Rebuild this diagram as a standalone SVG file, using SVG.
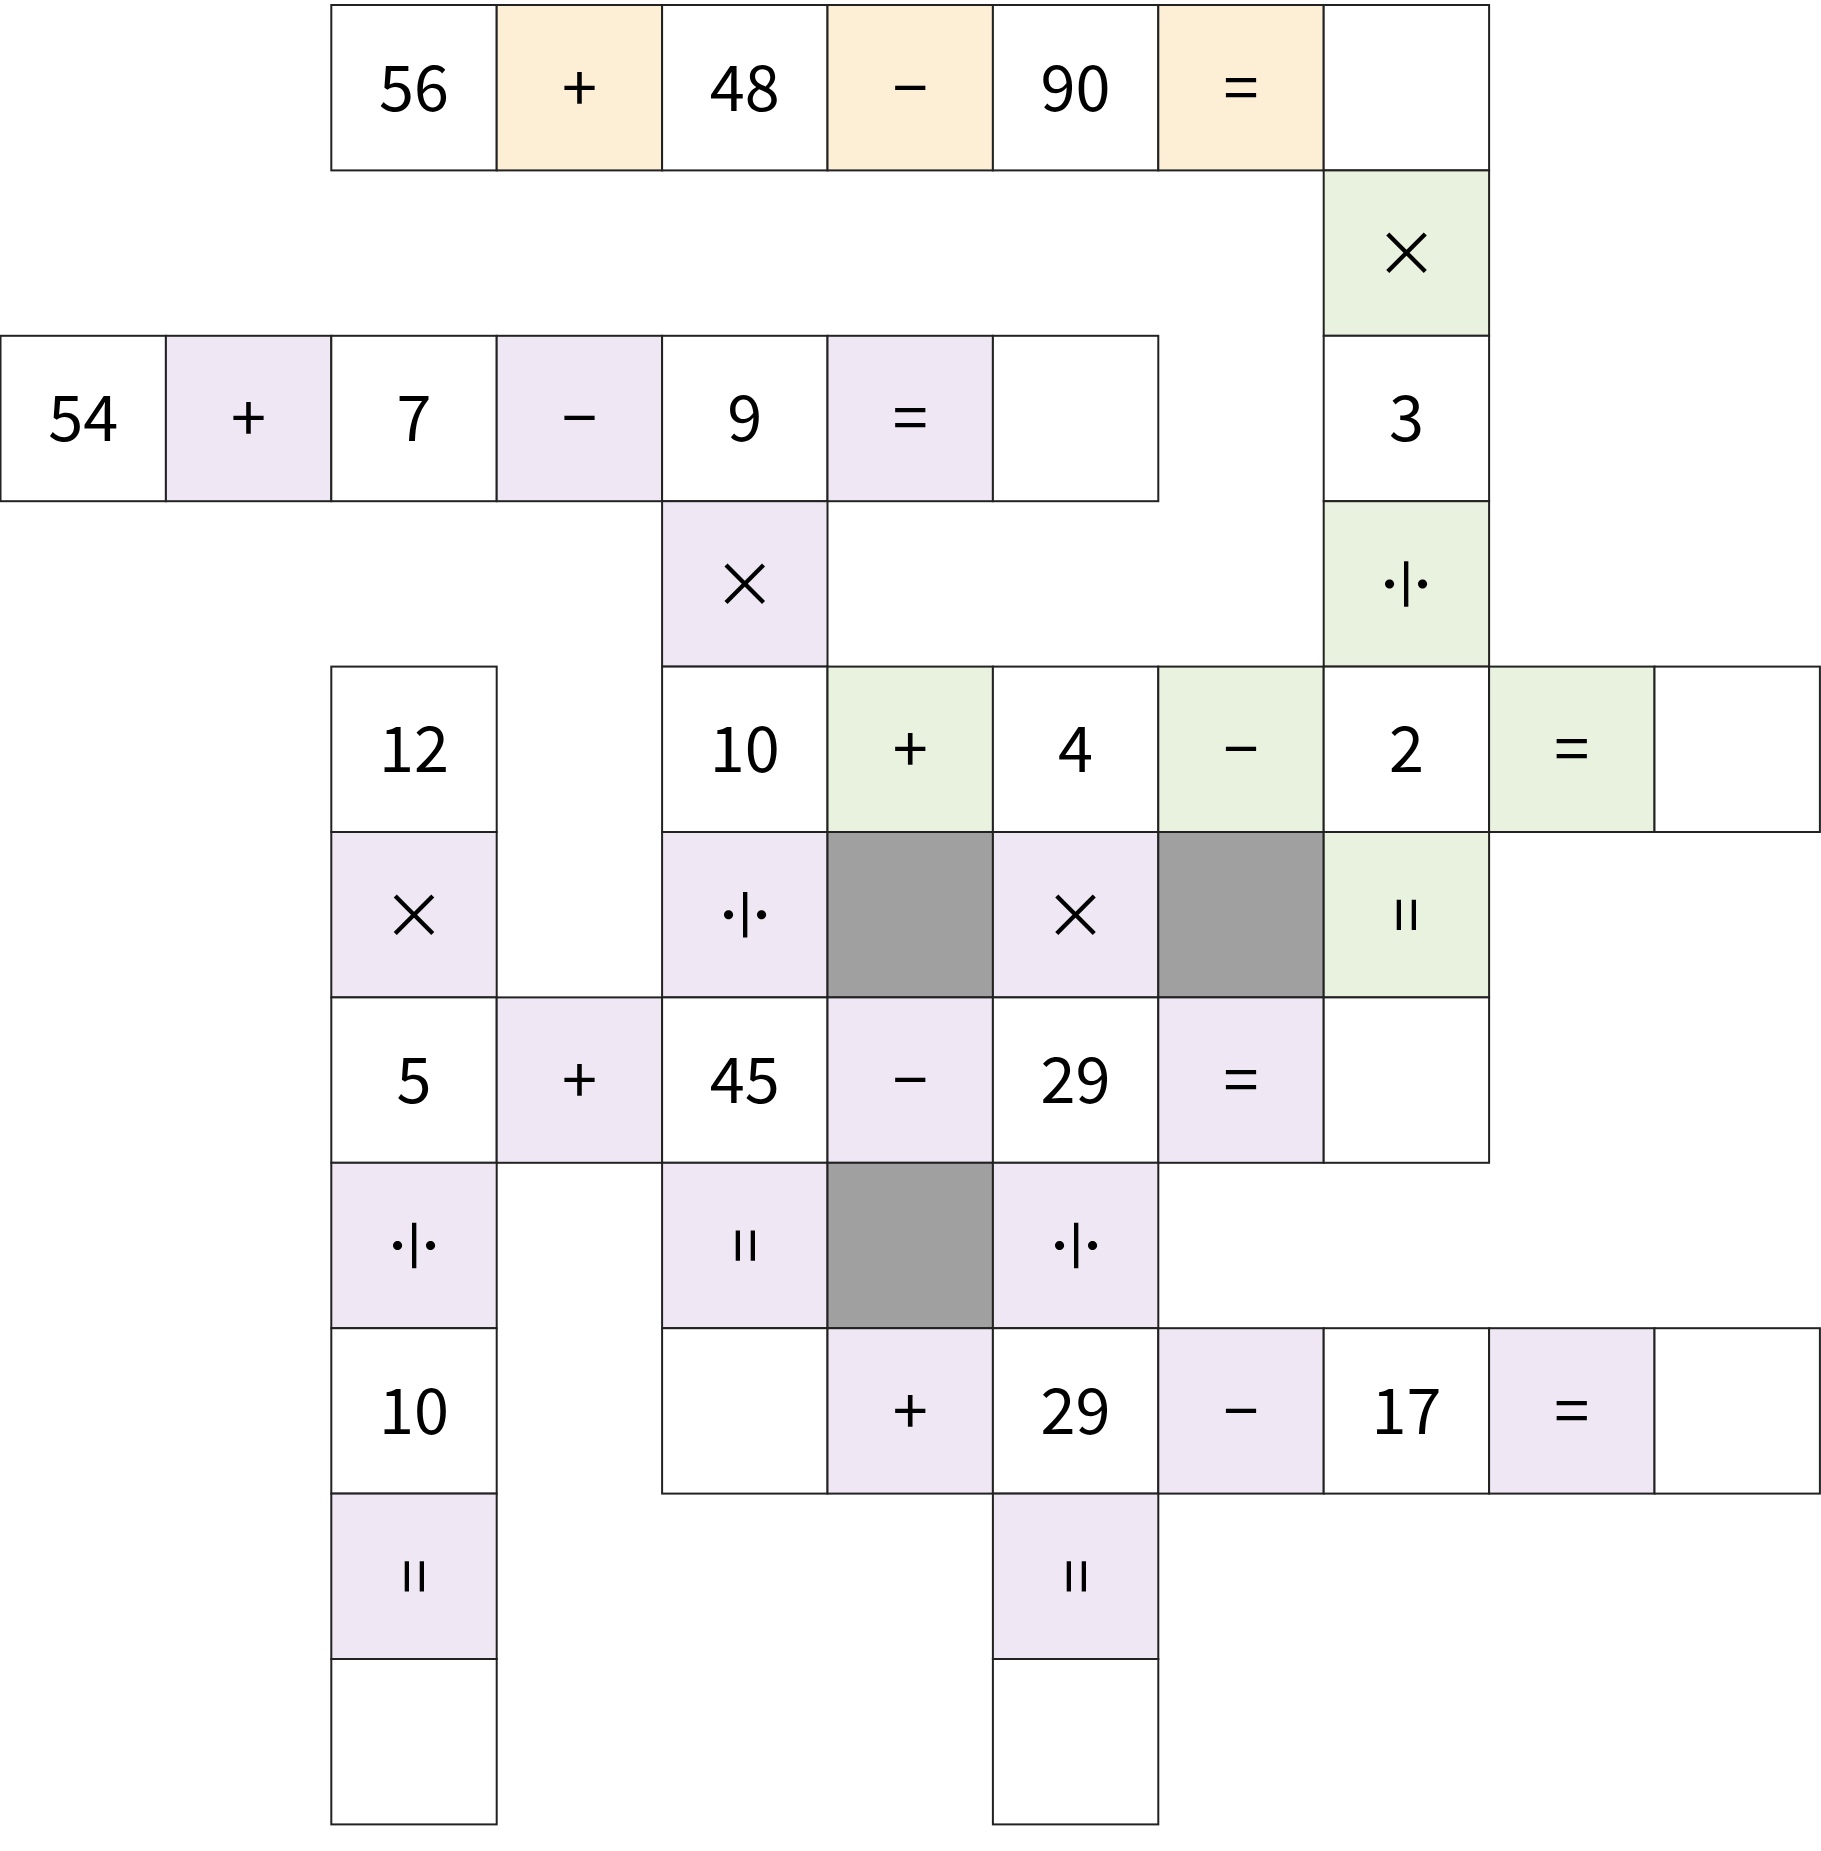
<svg xmlns="http://www.w3.org/2000/svg" width="1821" height="1851" viewBox="0 0 1821 1851">
<style>
.c{stroke:#222;stroke-width:2}
.w{fill:#ffffff}.o{fill:#fdeed6}.g{fill:#e9f2df}.p{fill:#efe8f4}.k{fill:#a0a0a0}
text{font-family:"Noto Sans CJK KR","Noto Sans",sans-serif;font-size:63px;fill:#000;text-anchor:middle}
</style>
<rect x="0" y="0" width="1821" height="1851" fill="#ffffff"/>
<g id="cells">
<!-- row 0 -->
<g id="r0c2" transform="translate(331.3,5)"><rect class="c w" width="165.4" height="165.4"/><text x="82.7" y="105.7">56</text></g>
<g id="r0c3" transform="translate(496.7,5)"><rect class="c o" width="165.4" height="165.4"/><text x="82.7" y="105.7">+</text></g>
<g id="r0c4" transform="translate(662.1,5)"><rect class="c w" width="165.4" height="165.4"/><text x="82.7" y="105.7">48</text></g>
<g id="r0c5" transform="translate(827.5,5)"><rect class="c o" width="165.4" height="165.4"/><text x="82.7" y="105.7">−</text></g>
<g id="r0c6" transform="translate(992.9,5)"><rect class="c w" width="165.4" height="165.4"/><text x="82.7" y="105.7">90</text></g>
<g id="r0c7" transform="translate(1158.3,5)"><rect class="c o" width="165.4" height="165.4"/><text x="82.7" y="105.7">=</text></g>
<g id="r0c8" transform="translate(1323.7,5)"><rect class="c w" width="165.4" height="165.4"/></g>
<!-- row 1 -->
<g id="r1c8" transform="translate(1323.7,170.4)"><rect class="c g" width="165.4" height="165.4"/><text x="82.7" y="105.7">×</text></g>
<!-- row 2 -->
<g id="r2c0" transform="translate(0.5,335.8)"><rect class="c w" width="165.4" height="165.4"/><text x="82.7" y="105.7">54</text></g>
<g id="r2c1" transform="translate(165.9,335.8)"><rect class="c p" width="165.4" height="165.4"/><text x="82.7" y="105.7">+</text></g>
<g id="r2c2" transform="translate(331.3,335.8)"><rect class="c w" width="165.4" height="165.4"/><text x="82.7" y="105.7">7</text></g>
<g id="r2c3" transform="translate(496.7,335.8)"><rect class="c p" width="165.4" height="165.4"/><text x="82.7" y="105.7">−</text></g>
<g id="r2c4" transform="translate(662.1,335.8)"><rect class="c w" width="165.4" height="165.4"/><text x="82.7" y="105.7">9</text></g>
<g id="r2c5" transform="translate(827.5,335.8)"><rect class="c p" width="165.4" height="165.4"/><text x="82.7" y="105.7">=</text></g>
<g id="r2c6" transform="translate(992.9,335.8)"><rect class="c w" width="165.4" height="165.4"/></g>
<g id="r2c8" transform="translate(1323.7,335.8)"><rect class="c w" width="165.4" height="165.4"/><text x="82.7" y="105.7">3</text></g>
<!-- row 3 -->
<g id="r3c4" transform="translate(662.1,501.2)"><rect class="c p" width="165.4" height="165.4"/><text x="82.7" y="105.7">×</text></g>
<g id="r3c8" transform="translate(1323.7,501.2)"><rect class="c g" width="165.4" height="165.4"/><text x="82.7" y="105.7" transform="rotate(90 82.7 82.7)">÷</text></g>
<!-- row 4 -->
<g id="r4c2" transform="translate(331.3,666.6)"><rect class="c w" width="165.4" height="165.4"/><text x="82.7" y="105.7">12</text></g>
<g id="r4c4" transform="translate(662.1,666.6)"><rect class="c w" width="165.4" height="165.4"/><text x="82.7" y="105.7">10</text></g>
<g id="r4c5" transform="translate(827.5,666.6)"><rect class="c g" width="165.4" height="165.4"/><text x="82.7" y="105.7">+</text></g>
<g id="r4c6" transform="translate(992.9,666.6)"><rect class="c w" width="165.4" height="165.4"/><text x="82.7" y="105.7">4</text></g>
<g id="r4c7" transform="translate(1158.3,666.6)"><rect class="c g" width="165.4" height="165.4"/><text x="82.7" y="105.7">−</text></g>
<g id="r4c8" transform="translate(1323.7,666.6)"><rect class="c w" width="165.4" height="165.4"/><text x="82.7" y="105.7">2</text></g>
<g id="r4c9" transform="translate(1489.1,666.6)"><rect class="c g" width="165.4" height="165.4"/><text x="82.7" y="105.7">=</text></g>
<g id="r4c10" transform="translate(1654.5,666.6)"><rect class="c w" width="165.4" height="165.4"/></g>
<!-- row 5 -->
<g id="r5c2" transform="translate(331.3,832)"><rect class="c p" width="165.4" height="165.4"/><text x="82.7" y="105.7">×</text></g>
<g id="r5c4" transform="translate(662.1,832)"><rect class="c p" width="165.4" height="165.4"/><text x="82.7" y="105.7" transform="rotate(90 82.7 82.7)">÷</text></g>
<g id="r5c5" transform="translate(827.5,832)"><rect class="c k" width="165.4" height="165.4"/></g>
<g id="r5c6" transform="translate(992.9,832)"><rect class="c p" width="165.4" height="165.4"/><text x="82.7" y="105.7">×</text></g>
<g id="r5c7" transform="translate(1158.3,832)"><rect class="c k" width="165.4" height="165.4"/></g>
<g id="r5c8" transform="translate(1323.7,832)"><rect class="c g" width="165.4" height="165.4"/><text x="82.7" y="105.7" transform="rotate(90 82.7 82.7)">=</text></g>
<!-- row 6 -->
<g id="r6c2" transform="translate(331.3,997.4)"><rect class="c w" width="165.4" height="165.4"/><text x="82.7" y="105.7">5</text></g>
<g id="r6c3" transform="translate(496.7,997.4)"><rect class="c p" width="165.4" height="165.4"/><text x="82.7" y="105.7">+</text></g>
<g id="r6c4" transform="translate(662.1,997.4)"><rect class="c w" width="165.4" height="165.4"/><text x="82.7" y="105.7">45</text></g>
<g id="r6c5" transform="translate(827.5,997.4)"><rect class="c p" width="165.4" height="165.4"/><text x="82.7" y="105.7">−</text></g>
<g id="r6c6" transform="translate(992.9,997.4)"><rect class="c w" width="165.4" height="165.4"/><text x="82.7" y="105.7">29</text></g>
<g id="r6c7" transform="translate(1158.3,997.4)"><rect class="c p" width="165.4" height="165.4"/><text x="82.7" y="105.7">=</text></g>
<g id="r6c8" transform="translate(1323.7,997.4)"><rect class="c w" width="165.4" height="165.4"/></g>
<!-- row 7 -->
<g id="r7c2" transform="translate(331.3,1162.8)"><rect class="c p" width="165.4" height="165.4"/><text x="82.7" y="105.7" transform="rotate(90 82.7 82.7)">÷</text></g>
<g id="r7c4" transform="translate(662.1,1162.8)"><rect class="c p" width="165.4" height="165.4"/><text x="82.7" y="105.7" transform="rotate(90 82.7 82.7)">=</text></g>
<g id="r7c5" transform="translate(827.5,1162.8)"><rect class="c k" width="165.4" height="165.4"/></g>
<g id="r7c6" transform="translate(992.9,1162.8)"><rect class="c p" width="165.4" height="165.4"/><text x="82.7" y="105.7" transform="rotate(90 82.7 82.7)">÷</text></g>
<!-- row 8 -->
<g id="r8c2" transform="translate(331.3,1328.2)"><rect class="c w" width="165.4" height="165.4"/><text x="82.7" y="105.7">10</text></g>
<g id="r8c4" transform="translate(662.1,1328.2)"><rect class="c w" width="165.4" height="165.4"/></g>
<g id="r8c5" transform="translate(827.5,1328.2)"><rect class="c p" width="165.4" height="165.4"/><text x="82.7" y="105.7">+</text></g>
<g id="r8c6" transform="translate(992.9,1328.2)"><rect class="c w" width="165.4" height="165.4"/><text x="82.7" y="105.7">29</text></g>
<g id="r8c7" transform="translate(1158.3,1328.2)"><rect class="c p" width="165.4" height="165.4"/><text x="82.7" y="105.7">−</text></g>
<g id="r8c8" transform="translate(1323.7,1328.2)"><rect class="c w" width="165.4" height="165.4"/><text x="82.7" y="105.7">17</text></g>
<g id="r8c9" transform="translate(1489.1,1328.2)"><rect class="c p" width="165.4" height="165.4"/><text x="82.7" y="105.7">=</text></g>
<g id="r8c10" transform="translate(1654.5,1328.2)"><rect class="c w" width="165.4" height="165.4"/></g>
<!-- row 9 -->
<g id="r9c2" transform="translate(331.3,1493.6)"><rect class="c p" width="165.4" height="165.4"/><text x="82.7" y="105.7" transform="rotate(90 82.7 82.7)">=</text></g>
<g id="r9c6" transform="translate(992.9,1493.6)"><rect class="c p" width="165.4" height="165.4"/><text x="82.7" y="105.7" transform="rotate(90 82.7 82.7)">=</text></g>
<!-- row 10 -->
<g id="r10c2" transform="translate(331.3,1659)"><rect class="c w" width="165.4" height="165.4"/></g>
<g id="r10c6" transform="translate(992.9,1659)"><rect class="c w" width="165.4" height="165.4"/></g>
</g>
<g id="connectors"></g>
</svg>
